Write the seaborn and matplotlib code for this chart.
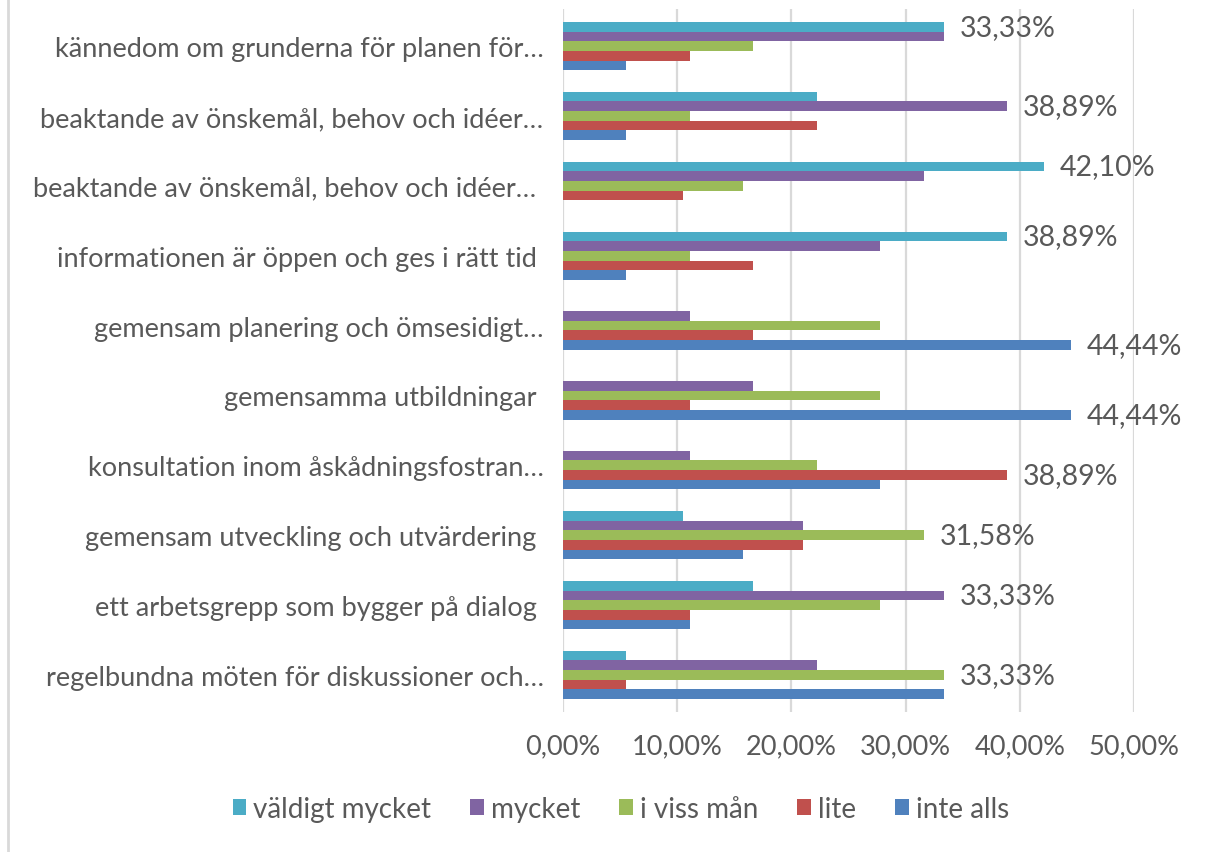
import pandas as pd
import seaborn as sns
import matplotlib.pyplot as plt
from matplotlib.lines import Line2D
from matplotlib.ticker import FuncFormatter

# ---- data (percent of respondents) ----
categories = [
    'kännedom om grunderna för planen för…',
    'beaktande av önskemål, behov och idéer…',
    'beaktande av önskemål, behov och idéer… ',
    'informationen är öppen och ges i rätt tid ',
    'gemensam planering och ömsesidigt…',
    'gemensamma utbildningar ',
    'konsultation inom åskådningsfostran…',
    'gemensam utveckling och utvärdering ',
    'ett arbetsgrepp som bygger på dialog ',
    'regelbundna möten för diskussioner och…',
]
series_names = ['väldigt mycket', 'mycket', 'i viss mån', 'lite', 'inte alls']
valdigt_mycket = [33.33, 22.22, 42.10, 38.89, 0, 0, 0, 10.53, 16.67, 5.56]
mycket = [33.33, 38.89, 31.58, 27.78, 11.11, 16.67, 11.11, 21.05, 33.33, 22.22]
i_viss_man = [16.67, 11.11, 15.79, 11.11, 27.78, 27.78, 22.22, 31.58, 27.78, 33.33]
lite = [11.11, 22.22, 10.53, 16.67, 16.67, 11.11, 38.89, 21.05, 11.11, 5.56]
inte_alls = [5.56, 5.56, 0, 5.56, 44.44, 44.44, 27.78, 15.79, 11.11, 33.33]

colors = ['#4BACC6', '#8064A2', '#9BBB59', '#C0504D', '#4F81BD']
text_gray = '#595959'
grid_gray = '#D9D9D9'

# long-form table for seaborn
values = [valdigt_mycket, mycket, i_viss_man, lite, inte_alls]
rows = []
for name, vals in zip(series_names, values):
    for cat, v in zip(categories, vals):
        rows.append({'kategori': cat, 'svar': name, 'andel': v})
df = pd.DataFrame(rows)

sns.set_theme(style='white')
plt.rcParams['font.family'] = ['Lato', 'DejaVu Sans']

fig = plt.figure(figsize=(12.14, 8.53), dpi=100)
ax = fig.add_axes([563 / 1214, 1 - 713 / 853, (1134 - 563) / 1214, (713 - 10) / 853])

sns.barplot(data=df, x='andel', y='kategori', hue='svar',
            order=categories, hue_order=series_names, palette=colors,
            orient='h', width=0.69, saturation=1, linewidth=0,
            errorbar=None, ax=ax, legend=True)

ax.set_xlim(0, 50)
ax.set_ylim(len(categories) - 0.47, -0.53)
ax.set_xticks([0, 10, 20, 30, 40, 50])
ax.xaxis.set_major_formatter(FuncFormatter(lambda v, p: f'{v:.2f}%'.replace('.', ',')))
ax.grid(axis='x', color=grid_gray, linewidth=1.6)
ax.set_axisbelow(True)
for s in ax.spines.values():
    s.set_visible(False)
ax.set_xlabel('')
ax.set_ylabel('')
ax.tick_params(axis='x', length=0, pad=15, labelsize=19.5, labelcolor=text_gray)
ax.tick_params(axis='y', length=0, pad=14, labelsize=19.5, labelcolor=text_gray)

# label only the largest answer per question
for i in range(len(categories)):
    col = [v[i] for v in values]
    k = col.index(max(col))
    bar = ax.containers[k][i]
    ax.annotate(f'{max(col):.2f}%'.replace('.', ','),
                (bar.get_width(), bar.get_y() + bar.get_height() / 2),
                xytext=(16, 0), textcoords='offset pixels',
                va='center', ha='left', fontsize=20.5, color=text_gray, clip_on=False)

# legend below
handles, labels = ax.get_legend_handles_labels()
ax.get_legend().remove()
fig.legend(handles, labels, loc='center', bbox_to_anchor=(621 / 1214, 1 - 810 / 853),
           ncol=5, frameon=False, fontsize=20, labelcolor=text_gray,
           handlelength=0.5, handleheight=0.5, handletextpad=0.25, columnspacing=1.4)

# chart frame edge on the left
fig.add_artist(Line2D([8 / 1214, 8 / 1214], [0, 1], color=grid_gray, linewidth=2))

fig.savefig('out.png', dpi=100)
